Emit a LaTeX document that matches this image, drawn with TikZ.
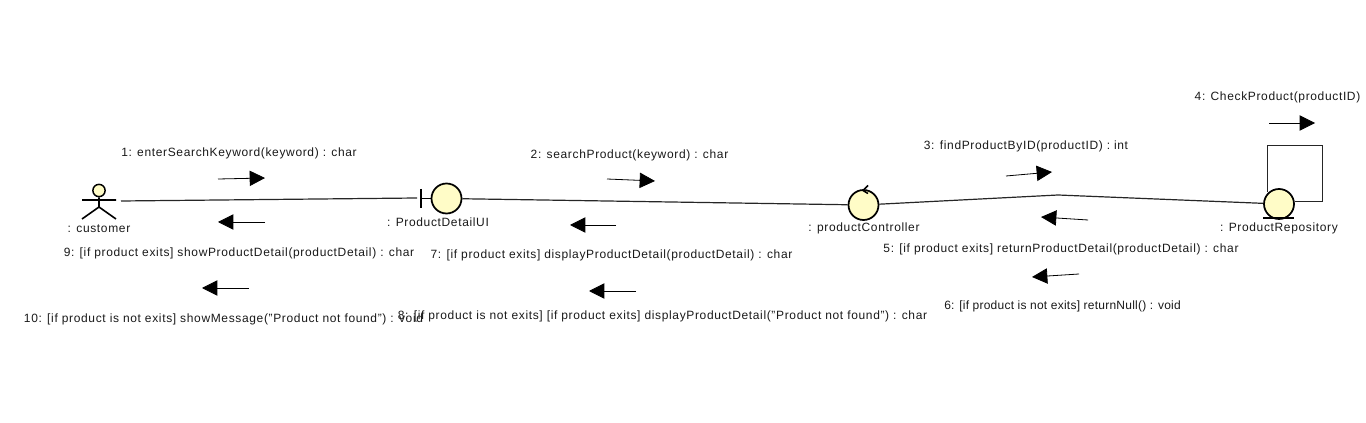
\documentclass[tikz,border=0pt]{standalone}
\usepackage{fontspec}
\setmainfont[LetterSpace=5.4]{Liberation Sans}
\usetikzlibrary{arrows.meta}
\tikzset{
  px/.style={x=0.75pt,y=-0.75pt},
  lbl/.style={anchor=center,inner sep=0pt,font=\fontsize{9pt}{11pt}\selectfont,text=black!90},
  wire/.style={draw=black!85,line width=0.9pt},
  obj/.style={draw=black,line width=1.3pt,fill=yellow!22!white,ellipse sh},
  msg/.style={draw=black,line width=0.6pt,-{Triangle[length=11.5pt,width=11.5pt]}},
  ellipse sh/.style={shape=circle,inner sep=0pt,minimum size=22.5pt},
  glyph/.style={draw=black,line width=1.2pt},
}
\begin{document}
\begin{tikzpicture}[px]
\useasboundingbox (0,0) rectangle (1366,423);
% objects
\node[obj,minimum size=9.2pt,line width=1.1pt] (head) at (99,190.5) {};
\coordinate (hip) at (99,207);
\coordinate (armL) at (82,200);
\coordinate (armR) at (116,200);
\coordinate (legL) at (82,219);
\coordinate (legR) at (116,219);
\draw[glyph] (head.south) -- (hip) (armL) -- (armR) (legL) -- (hip) -- (legR);
\node[obj] (ui) at (446.5,198.5) {};
\coordinate (uiTop) at (421,189);
\coordinate (uiBot) at (421,208);
\coordinate (uiMid) at (421,198.5);
\draw[glyph,line width=1.4pt] (uiTop) -- (uiBot) (uiMid) -- (ui.west);
\node[obj] (ctl) at (863.5,205) {};
\coordinate (ctlB) at (868,185.5);
\coordinate (ctlC) at (863,190.5);
\coordinate (ctlD) at (868,193.5);
\draw[glyph] (ctlB) -- (ctlC) -- (ctlD);
\node[obj] (repo) at (1279,204) {};
\coordinate (repoL) at (1263,218);
\coordinate (repoR) at (1294,218);
\draw[glyph,line width=1.5pt] (repoL) -- (repoR);
% links
\coordinate (actorEnd) at (121,201);
\coordinate (uiEnd) at (417,198);
\coordinate (bend) at (1058,195);
\coordinate (loopA) at (1267,146);
\coordinate (loopB) at (1322,146);
\coordinate (loopC) at (1322,202);
\draw[wire] (actorEnd) -- (uiEnd);
\draw[wire] (ui) -- (ctl);
\draw[wire] (ctl) -- (bend) -- (repo);
\draw[wire,line width=0.75pt] (repo.north west) ++(0,-1) coordinate (loopS) -- (loopS |- loopA) -- (loopB) -- (loopC) -- (repo.east |- loopC);
% message arrows
\coordinate (a1s) at (218,179); \coordinate (a1e) at (265,178);
\coordinate (a2s) at (607,179); \coordinate (a2e) at (655,181);
\coordinate (a3s) at (1006,176); \coordinate (a3e) at (1052,172);
\coordinate (a4s) at (1269,123); \coordinate (a4e) at (1315,123);
\coordinate (a5s) at (1088,220); \coordinate (a5e) at (1041,217);
\coordinate (a6s) at (1079,274); \coordinate (a6e) at (1032,277);
\coordinate (a7s) at (616,225); \coordinate (a7e) at (570,225);
\coordinate (a8s) at (636,291); \coordinate (a8e) at (589,291);
\coordinate (a9s) at (265,222); \coordinate (a9e) at (218,222);
\coordinate (a10s) at (249,288); \coordinate (a10e) at (202,288);
\foreach \n in {1,...,10} \draw[msg] (a\n s) -- (a\n e);
% labels
\node[lbl] (tCustomer) at (99,228.5) {: customer};
\node[lbl] (tUI) at (438,222.5) {: ProductDetailUI};
\node[lbl] (tCtl) at (864,228.5) {: productController};
\node[lbl] (tRepo) at (1279,228.5) {: ProductRepository};
\node[lbl] (t1) at (239,153) {1: enterSearchKeyword(keyword) : char};
\node[lbl] (t2) at (629.5,155) {2: searchProduct(keyword) : char};
\node[lbl] (t3) at (1026,146.5) {3: findProductByID(productID) : int};
\node[lbl] (t4) at (1277.5,97) {4: CheckProduct(productID)};
\node[lbl] (t5) at (1061,249) {5: [if product exits] returnProductDetail(productDetail) : char};
\node[lbl] (t6) at (1062.5,306) {\addfontfeature{LetterSpace=2}6: [if product is not exits] returnNull() : void};
\node[lbl] (t7) at (611.5,255) {7: [if product exits] displayProductDetail(productDetail) : char};
\node[lbl] (t8) at (662.5,316.5) {8: [if product is not exits] [if product exits] displayProductDetail("Product not found") : char};
\node[lbl] (t9) at (239,253) {9: [if product exits] showProductDetail(productDetail) : char};
\node[lbl] (t10) at (223.5,319.5) {10: [if product is not exits] showMessage("Product not found") : void};
\end{tikzpicture}
\end{document}
